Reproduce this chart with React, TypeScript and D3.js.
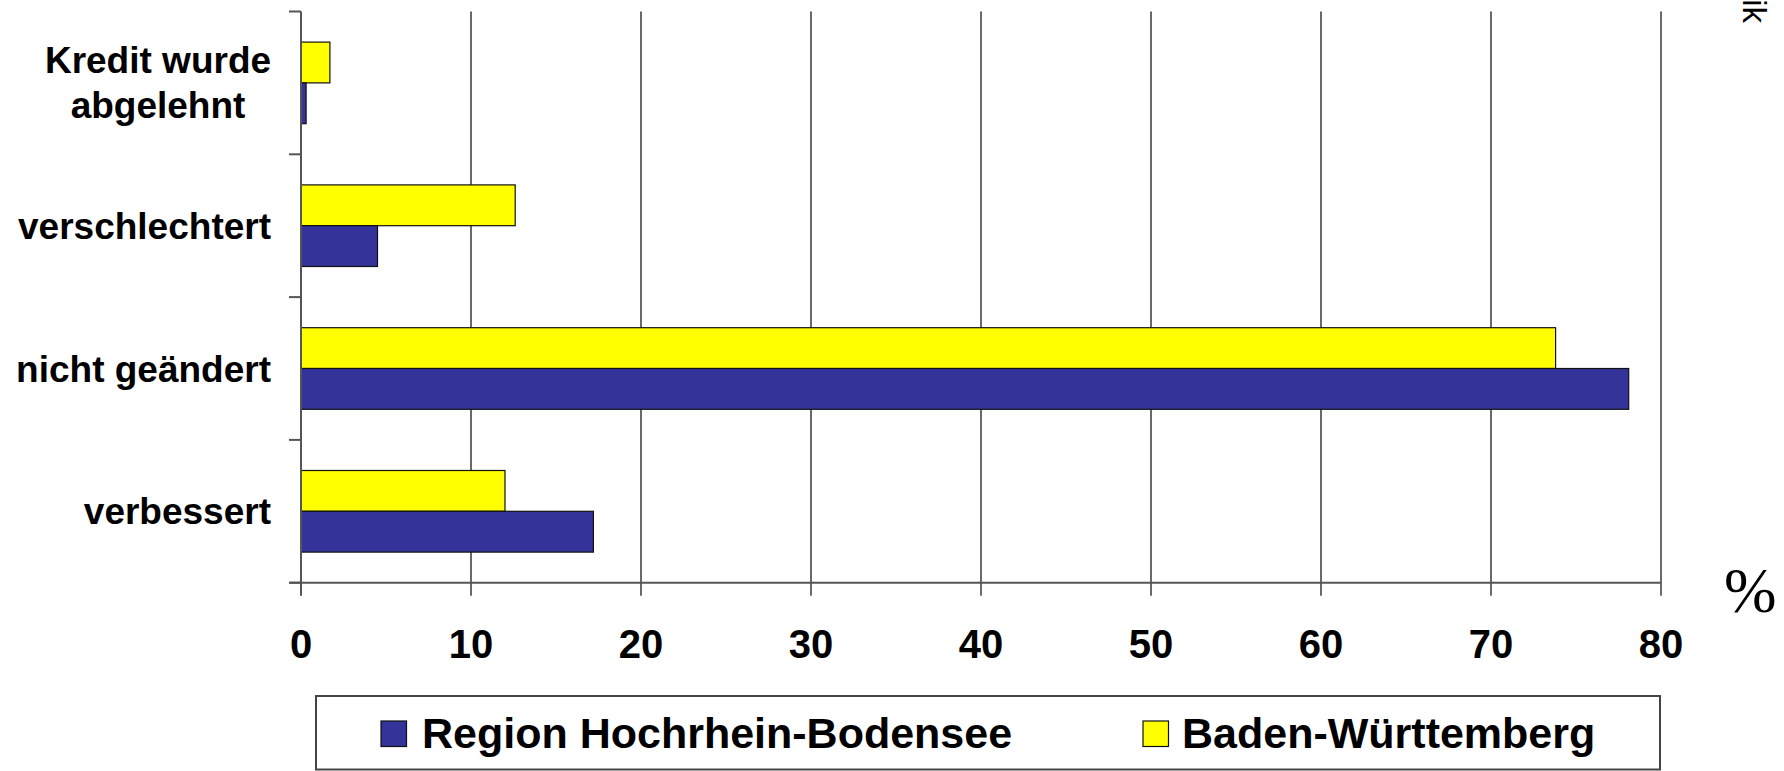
import React from "react";
import * as d3 from "d3";

const categories = ["Kredit wurde abgelehnt", "verschlechtert", "nicht geändert", "verbessert"];
const categoryLines = [["Kredit wurde", "abgelehnt"], ["verschlechtert"], ["nicht geändert"], ["verbessert"]];
const seriesNames = ["Region Hochrhein-Bodensee", "Baden-Württemberg"];
const regionValues = [0.3, 4.5, 78.1, 17.2];
const bwValues = [1.7, 12.6, 73.8, 12.0];
const xTicks = [0, 10, 20, 30, 40, 50, 60, 70, 80];

const BLUE = "#333399";
const YELLOW = "#FFFF00";

export default function App() {
  const W = 1784, H = 771;
  const x0 = 301, x1 = 1661, yTop = 11.5, yBot = 582.7;
  const x = d3.scaleLinear().domain([0, 80]).range([x0, x1]);
  const y = d3.scaleBand<string>().domain(categories).range([yTop, yBot]).paddingInner(0).paddingOuter(0);
  const bw = y.bandwidth();
  const barH = bw / 3.5;
  const off = (bw - 2 * barH) / 2;
  const axisColor = "#555";
  const font = "'Liberation Sans', Arial, sans-serif";
  const boundaries = categories.map((c) => y(c)!).concat([yBot]);

  return (
    <svg width={W} height={H} style={{ position: "absolute", left: 0, top: 0, background: "#fff" }}>
      <rect x={0} y={0} width={W} height={H} fill="#fff" />
      {/* gridlines */}
      {xTicks.slice(1).map((t) => (
        <line key={"g" + t} x1={x(t)} x2={x(t)} y1={yTop} y2={yBot + 13} stroke="#444" strokeWidth={1.6} />
      ))}
      {/* bars */}
      {categories.map((c, i) => {
        const by = y(c)!;
        return (
          <g key={c}>
            <rect x={x(0)} y={by + off} width={x(bwValues[i]) - x(0)} height={barH} fill={YELLOW} stroke="#111" strokeWidth={1.2} />
            <rect x={x(0)} y={by + off + barH} width={x(regionValues[i]) - x(0)} height={barH} fill={BLUE} stroke="#111" strokeWidth={1.2} />
          </g>
        );
      })}
      {/* y axis */}
      <line x1={x0} x2={x0} y1={yTop} y2={yBot + 13} stroke={axisColor} strokeWidth={2} />
      {boundaries.map((b, i) => (
        <line key={"yt" + i} x1={x0 - 12} x2={x0} y1={b} y2={b} stroke={axisColor} strokeWidth={2} />
      ))}
      {/* x axis */}
      <line x1={x0 - 12} x2={x1} y1={yBot} y2={yBot} stroke={axisColor} strokeWidth={2} />
      {xTicks.map((t) => (
        <text key={"xl" + t} x={x(t)} y={658} textAnchor="middle" fontFamily={font} fontWeight="bold" fontSize={40} fill="#000">
          {t}
        </text>
      ))}
      {/* category labels */}
      {categories.map((c, i) => {
        const cy = y(c)! + bw / 2;
        const lines = categoryLines[i];
        if (lines.length === 1) {
          return (
            <text key={"cl" + i} x={271} y={cy + 13} textAnchor="end" fontFamily={font} fontWeight="bold" fontSize={37} fill="#000">
              {lines[0]}
            </text>
          );
        }
        return (
          <g key={"cl" + i}>
            <text x={158} y={cy - 10} textAnchor="middle" fontFamily={font} fontWeight="bold" fontSize={37} fill="#000">
              {lines[0]}
            </text>
            <text x={158} y={cy + 35.5} textAnchor="middle" fontFamily={font} fontWeight="bold" fontSize={37} fill="#000">
              {lines[1]}
            </text>
          </g>
        );
      })}
      {/* percent sign */}
      <text x={1724} y={612} fontFamily="'Liberation Serif', 'Times New Roman', serif" fontSize={63} fill="#000">
        %
      </text>
      {/* rotated source text, mostly outside the picture */}
      <text transform="translate(1743,23) rotate(90)" textAnchor="end" fontFamily={font} fontSize={33} fill="#000">
        Statistik
      </text>
      {/* legend */}
      <rect x={316} y={696} width={1344} height={73.5} fill="#fff" stroke="#444" strokeWidth={2} />
      <rect x={381} y={721} width={25.5} height={25.5} fill={BLUE} stroke="#111" strokeWidth={1.2} />
      <text x={422} y={748} fontFamily={font} fontWeight="bold" fontSize={43} fill="#000">
        {seriesNames[0]}
      </text>
      <rect x={1143} y={721} width={25.5} height={25.5} fill={YELLOW} stroke="#111" strokeWidth={1.2} />
      <text x={1182} y={748} fontFamily={font} fontWeight="bold" fontSize={43} fill="#000">
        {seriesNames[1]}
      </text>
    </svg>
  );
}
